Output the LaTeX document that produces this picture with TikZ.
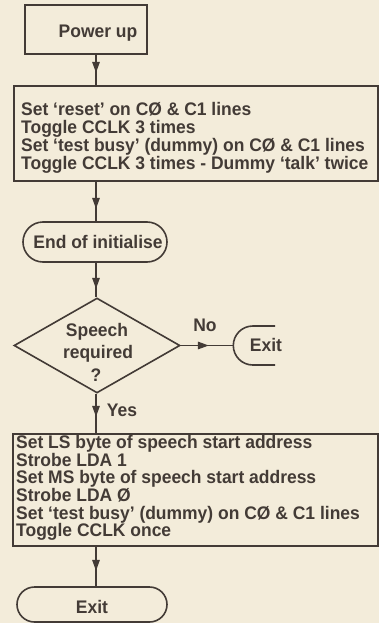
\documentclass[tikz,border=0pt]{standalone}
\usepackage{fontspec}
\setmainfont{Liberation Sans}[FakeStretch=0.96]
\usetikzlibrary{shapes.geometric,arrows.meta,decorations.markings}
\definecolor{paper}{HTML}{F3ECDA}
\definecolor{ink}{HTML}{433B36}
\tikzset{
  outline/.style={draw=ink, line width=1.6pt},
  stepbox/.style={outline, rectangle, inner sep=0pt},
  termbox/.style={outline, rectangle, rounded corners=#1, inner sep=0pt},
  decision/.style={outline, diamond, inner sep=0pt},
  lbl/.style={text=ink, inner sep=0pt, font=\bfseries\fontsize{18.2}{18}\selectfont},
  flow/.style={outline},
  headat/.style={postaction={decorate}, decoration={markings,
    mark=at position #1 with {\arrow[ink]{Triangle[length=11pt,width=7.5pt]}}}},
}
\begin{document}
\begin{tikzpicture}[x=1pt,y=-1pt]
  % sheet
  \fill[paper] (0,0) rectangle (379,623);
  \useasboundingbox (0,0) rectangle (379,623);
  \coordinate (spine) at (96,0);

  % start
  \node[stepbox, minimum width=122pt, minimum height=49pt] (pwr) at (86,29.5) {};
  \node[lbl, anchor=base] (pwrt) at (98,37.5) {Power up};

  % initialisation
  \node[stepbox, minimum width=364pt, minimum height=95pt] (init) at (196,133.5) {};
  \foreach \t [count=\i] in {
      Set ‘reset’ on CØ \& C1 lines,
      Toggle CCLK 3 times,
      Set ‘test busy’ (dummy) on CØ \& C1 lines,
      Toggle CCLK 3 times - Dummy ‘talk’ twice}
    \node[lbl, anchor=base west] (initl\i) at (21,{115+18.33*(\i-1)}) {\t};

  % end of initialise
  \node[termbox=20pt, minimum width=144pt, minimum height=40pt] (eoi) at (95,242) {};
  \node[lbl, anchor=base] (eoit) at (98,248) {End of initialise};

  % decision
  \node[decision, minimum width=166pt, minimum height=95pt] (dec) at (97,345.5) {};
  \node[lbl, anchor=base] (dec1) at (97,336.7) {Speech};
  \node[lbl, anchor=base] (dec2) at (98,358.5) {required};
  \node[lbl, anchor=base] (dec3) at (96,381) {?};

  % open exit on the right
  \coordinate (exitrl) at (233.3,345.5);
  \draw[outline] (275,326) -- (252.8,326) arc[start angle=270, end angle=90, radius=19.5] -- (275,365);
  \node[lbl, anchor=base] (exitr) at (266,351.7) {Exit};
  \node[lbl, anchor=base] (nolbl) at (205,331.5) {No};

  % speech output setup
  \node[stepbox, minimum width=365pt, minimum height=112pt] (spk) at (195.5,490) {};
  \foreach \t [count=\i] in {
      Set LS byte of speech start address,
      Strobe LDA 1,
      Set MS byte of speech start address,
      Strobe LDA Ø,
      Set ‘test busy’ (dummy) on CØ \& C1 lines,
      Toggle CCLK once}
    \node[lbl, anchor=base west] (spkl\i) at (16,{448.3+17.7*(\i-1)}) {\t};

  % final exit
  \node[termbox=17.5pt, minimum width=150pt, minimum height=35pt] (exitb) at (92,604.5) {};
  \node[lbl, anchor=base] (exitbt) at (92,613) {Exit};

  % connectors
  \draw[flow, headat=18pt] (pwr.south -| spine) -- (init.north -| spine);
  \draw[flow, headat=27pt] (init.south -| spine) -- (eoi.north -| spine);
  \draw[flow, headat=26pt] (eoi.south -| spine) -- (dec.north -| spine);
  \draw[flow, headat=28pt] (dec.east) -- (exitrl);
  \draw[flow, headat=23pt] (dec.south -| spine) -- (spk.north -| spine);
  \node[lbl, anchor=base west] (yeslbl) at (106.7,416.5) {Yes};
  \draw[flow, headat=24pt] (spk.south -| spine) -- (exitb.north -| spine);
\end{tikzpicture}
\end{document}
